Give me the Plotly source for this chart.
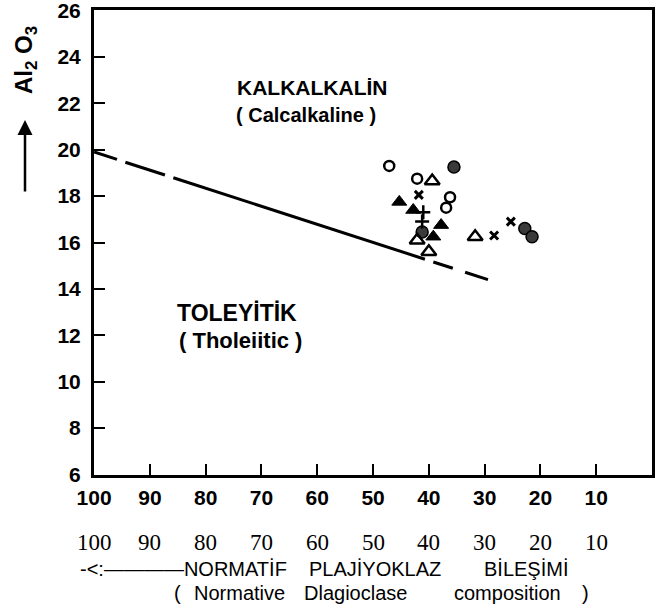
import plotly.graph_objects as go

# plagioclase composition (An %) vs Al2O3 (wt %)
open_circle_x = [47.1, 42.1, 36.2, 36.9]
open_circle_y = [19.3, 18.75, 17.95, 17.5]
filled_circle_x = [35.5, 22.8, 21.5, 41.2]
filled_circle_y = [19.25, 16.6, 16.25, 16.45]
open_tri_x = [39.4, 42.1, 40.0, 31.7]
open_tri_y = [18.65, 16.1, 15.6, 16.25]
filled_tri_x = [45.3, 42.8, 37.8, 39.2]
filled_tri_y = [17.75, 17.4, 16.75, 16.25]
cross_x = [41.8, 28.3, 25.3]
cross_y = [18.05, 16.3, 16.9]
plus_x = [41.0, 41.2]
plus_y = [17.3, 16.9]

# calcalkaline / tholeiitic boundary (None = pen lifted)
boundary_x = [100, 95.9, None, 94.4, 87.3, None, 85.8, 40.7, None, 39.2, 35.7, None, 33.5, 29.4]
boundary_y = [19.9, 19.58, None, 19.46, 18.91, None, 18.79, 15.28, None, 15.16, 14.89, None, 14.72, 14.40]

x_ticks = [100, 90, 80, 70, 60, 50, 40, 30, 20, 10]
y_ticks = [6, 8, 10, 12, 14, 16, 18, 20, 22, 24, 26]

BOLD = "Liberation Sans"

fig = go.Figure()

fig.add_trace(go.Scatter(x=boundary_x, y=boundary_y, mode="lines",
                         line=dict(color="black", width=3), connectgaps=False))

def pts(x, y, symbol, size, fill, lw):
    fig.add_trace(go.Scatter(
        x=x, y=y, mode="markers",
        marker=dict(symbol=symbol, size=size, color=fill,
                    line=dict(color="black", width=lw))))

pts(open_circle_x, open_circle_y, "circle-open", 10, "black", 2.5)
pts(filled_circle_x, filled_circle_y, "circle", 12, "#3a3a3a", 1.5)
pts(open_tri_x, open_tri_y, "triangle-up-open", 13, "black", 2.5)
pts(filled_tri_x, filled_tri_y, "triangle-up", 13, "black", 1)
pts(cross_x, cross_y, "x-thin", 8, "black", 3)
pts(plus_x, plus_y, "cross-thin", 10, "black", 2.5)

axis_style = dict(ticks="inside", ticklen=11, tickwidth=2, tickcolor="black",
                  showline=True, linewidth=3, linecolor="black", mirror=True,
                  showgrid=False, zeroline=False, automargin=False,
                  ticklabeloverflow="allow",
                  tickfont=dict(family=BOLD, size=21, color="black", weight="bold"))
fig.update_xaxes(range=[100.02, 0], tickvals=x_ticks, ticklabelstandoff=2, **axis_style)
fig.update_yaxes(range=[5.98, 26.02], tickvals=y_ticks, ticklabelstandoff=6, **axis_style)

ann = []

def label(text, x, y, size, xref="paper", yref="paper", family=BOLD, weight="bold",
          xanchor="center", angle=0):
    ann.append(dict(text=text, x=x, y=y, xref=xref, yref=yref, showarrow=False,
                    xanchor=xanchor, yanchor="middle", textangle=angle,
                    font=dict(family=family, size=size, color="black", weight=weight)))

# positions measured in screen pixels, converted to the plot area
def px(p):
    return (p - 94) / 558

def py(p):
    return (475 - p) / 465

label("KALKALKALİN", px(312), py(87), 21)
label("( Calcalkaline )", px(306), py(115), 20)
label("TOLEYİTİK", px(237), py(313), 23)
label("( Tholeiitic )", px(240), py(340), 22)

# y axis title with arrow
label("Al<sub>2</sub> O<sub>3</sub>", px(25), py(60), 24, angle=-90)
ann.append(dict(text="", x=px(25), y=py(120), xref="paper", yref="paper",
                showarrow=True, ax=0, ay=73, arrowhead=2, arrowsize=1.2,
                arrowwidth=2.5, arrowcolor="black"))

# second row of axis numbers (serif)
for v in x_ticks:
    label(str(v), v, py(542), 23, xref="x", family="Liberation Serif", weight="normal")

# bottom axis caption
SANS = "Liberation Sans"
label("-<:————NORMATİF", px(78), py(569), 20, family=SANS, weight="normal", xanchor="left")
label("PLAJİYOKLAZ", px(307), py(569), 20, family=SANS, weight="normal", xanchor="left")
label("BİLEŞİMİ", px(482), py(569), 20, family=SANS, weight="normal", xanchor="left")
label("(", px(172), py(593), 20, family=SANS, weight="normal", xanchor="left")
label("Normative", px(192), py(593), 20, family=SANS, weight="normal", xanchor="left")
label("Dlagioclase", px(302), py(593), 20, family=SANS, weight="normal", xanchor="left")
label("composition", px(452), py(593), 20, family=SANS, weight="normal", xanchor="left")
label(")", px(580), py(593), 20, family=SANS, weight="normal", xanchor="left")

fig.update_layout(
    template="none",
    width=658, height=608,
    margin=dict(l=94, r=6, t=10, b=133),
    paper_bgcolor="white", plot_bgcolor="white",
    showlegend=False,
    annotations=ann,
)

# drop the default 8px page margin so the figure fills the window
fig.write_html("out.html", config={"displayModeBar": False},
               post_script="document.body.style.margin='0px';")
